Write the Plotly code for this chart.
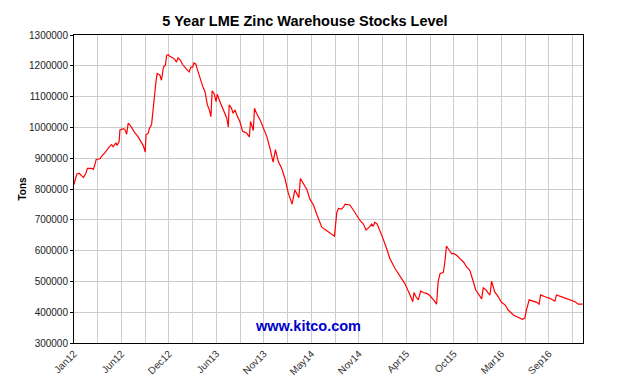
import plotly.graph_objects as go

# trading-day index (x) and warehouse stocks in thousands of tons
day_index = [0, 7, 13, 24, 30, 34, 45, 49, 53, 56, 66, 70, 78, 83, 89, 95, 99, 106, 109, 114,
             116, 125, 129, 133, 137, 143, 150, 154, 160, 167, 175, 180, 182, 188, 190, 196, 200,
             203, 207, 210, 217, 221, 226, 231, 234, 238, 242, 249, 255, 259, 263, 269, 274, 283,
             291, 295, 300, 303, 308, 311, 318, 325, 331, 337, 342, 346, 349, 354, 359, 362, 367,
             373, 379, 386, 390, 392, 398, 402, 407, 411, 419, 426, 432, 436, 443, 446, 450, 453,
             456, 461, 470, 478, 487, 495, 503, 509, 516, 524, 533, 541, 551, 558, 564, 568, 572,
             588, 596, 605, 613, 626, 638, 651, 658, 664, 668, 676, 680, 685, 697, 704, 712, 723,
             731, 738, 746, 752, 756, 760, 766, 773, 781, 790, 798, 811, 824, 836, 849, 856, 859,
             864, 870, 876, 882, 891, 899, 906, 912, 916, 920, 925, 933, 937, 941, 948, 954, 960,
             967, 975, 984, 992, 1000, 1009, 1015, 1021, 1030, 1034, 1041, 1047, 1051, 1055, 1059,
             1063, 1072, 1080, 1089, 1097, 1110, 1122, 1133, 1139, 1143, 1150, 1160, 1169, 1175,
             1179, 1190, 1202, 1215, 1219, 1236, 1253, 1266, 1274, 1285]
stocks_k = [815, 848, 851, 837, 851, 867, 867, 864, 880, 896, 898, 907, 917, 928, 937, 944, 937,
            950, 941, 955, 992, 996, 992, 978, 1014, 1005, 989, 982, 973, 958, 941, 920, 976, 982,
            995, 1009, 1062, 1116, 1148, 1175, 1170, 1153, 1196, 1202, 1234, 1236, 1231, 1226,
            1220, 1212, 1226, 1218, 1205, 1191, 1180, 1196, 1196, 1209, 1205, 1191, 1159, 1134,
            1116, 1073, 1057, 1035, 1119, 1110, 1084, 1108, 1089, 1070, 1055, 1030, 1001, 1073,
            1062, 1046, 1057, 1041, 1019, 987, 984, 982, 969, 1019, 1003, 990, 1062, 1046, 1025,
            998, 971, 933, 887, 928, 890, 869, 834, 789, 751, 797, 783, 772, 834, 799, 767, 748,
            719, 676, 665, 654, 647, 724, 737, 735, 740, 751, 748, 735, 719, 697, 686, 667, 676,
            686, 679, 692, 686, 665, 638, 606, 574, 542, 515, 493, 456, 434, 464, 450, 440, 469,
            464, 461, 454, 445, 434, 426, 499, 526, 529, 563, 615, 601, 590, 590, 585, 574, 563,
            547, 536, 499, 472, 461, 443, 479, 472, 461, 456, 501, 483, 466, 450, 432, 424, 407,
            391, 383, 377, 381, 407, 440, 436, 432, 426, 456, 450, 445, 436, 456, 448, 440, 434,
            426, 426]
stocks = [v * 1000 for v in stocks_k]

tick_labels = ["Jan12", "Jun12", "Dec12", "Jun13", "Nov13", "May14", "Nov14",
               "Apr15", "Oct15", "Mar16", "Sep16"]
tick_step = 120
grid_vals = [i * tick_step // 2 for i in range(2 * len(tick_labels) + 1)]
grid_text = [tick_labels[i // 2] if i % 2 == 0 and i // 2 < len(tick_labels) else ""
             for i in range(len(grid_vals))]

fig = go.Figure()
fig.add_trace(go.Scatter(x=day_index, y=stocks, mode="lines",
                         line=dict(color="#ff0000", width=1.2), hoverinfo="skip"))

fig.update_layout(
    width=640, height=389,
    margin=dict(l=74, r=57, t=35, b=44),
    paper_bgcolor="white", plot_bgcolor="white",
    showlegend=False,
    font=dict(family="Liberation Sans, Arial, sans-serif", color="#222222", size=10),
    title=dict(text="<b>5 Year LME Zinc Warehouse Stocks Level</b>",
               x=305 / 640, xanchor="center", y=1 - 21 / 389, yanchor="middle",
               font=dict(size=14.5, color="#000000")),
)
fig.update_xaxes(
    range=[0, 1286], tickmode="array", tickvals=grid_vals, ticktext=grid_text,
    tickangle=-45, showgrid=True, gridcolor="#cccccc", gridwidth=1,
    showline=True, linecolor="#000000", linewidth=1, mirror=True,
    ticks="", zeroline=False, tickfont=dict(size=10, color="#333333"),
)
fig.update_yaxes(
    range=[300000, 1300000], dtick=100000, tickformat="d",
    showgrid=True, gridcolor="#cccccc", gridwidth=1,
    showline=True, linecolor="#000000", linewidth=1, mirror=True,
    ticks="outside", ticklen=3, tickcolor="#000000", zeroline=False,
    tickfont=dict(size=10, color="#222222"),
    title=dict(text="<b>Tons</b>", font=dict(size=10, color="#000000"), standoff=0),
)
fig.add_annotation(text="<b>www.kitco.com</b>", xref="paper", yref="paper",
                   x=(308 - 74) / (583 - 74), y=(345 - 327.5) / (345 - 34.5),
                   xanchor="center", yanchor="middle", showarrow=False,
                   font=dict(size=14.5, color="#0000cc"))

fig.write_html("out.html", config={"displayModeBar": False},
               post_script="document.body.style.margin='0';")
